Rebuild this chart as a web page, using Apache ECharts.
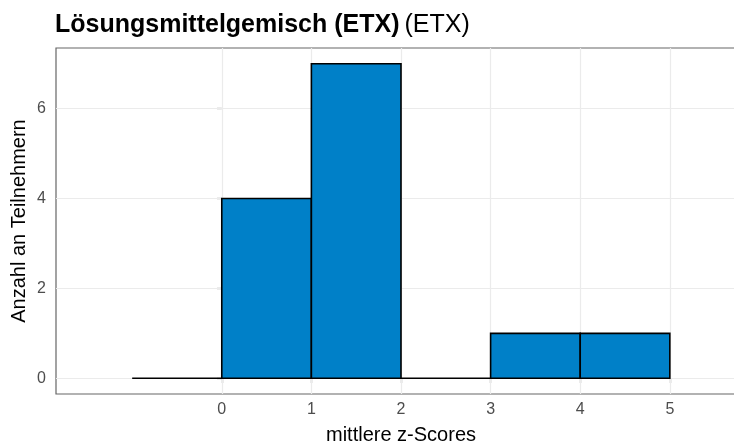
<!DOCTYPE html>
<html>
<head>
<meta charset="utf-8">
<script src="https://cdn.jsdelivr.net/npm/echarts@6/dist/echarts.min.js"></script>
<style>
html, body { margin: 0; padding: 0; background: #fff; overflow: hidden; }
#chart { width: 734px; height: 443px; }
</style>
</head>
<body>
<div id="chart"></div>
<script>
// histogram bins (z-score ranges) and counts
const binStart = [-1, 0, 1, 2, 3, 4];
const binEnd = [0, 1, 2, 3, 4, 5];
const counts = [0, 4, 7, 0, 1, 1];
const xTicks = [0, 1, 2, 3, 4, 5];
const yTicks = [0, 2, 4, 6];

const barData = binStart.map((s, i) => [s, binEnd[i], counts[i]]);
const gridLines = xTicks.map(v => ({ xAxis: v })).concat(yTicks.map(v => ({ yAxis: v })));

const chart = echarts.init(document.getElementById('chart'));
chart.setOption({
  animation: false,
  textStyle: { fontFamily: 'Liberation Sans, Arial, sans-serif' },
  title: {
    left: 50,
    top: 8,
    text: '{b|Lösungsmittelgemisch (ETX)} {n|(ETX)}',
    textStyle: {
      rich: {
        b: { fontSize: 25, fontWeight: 'bold', color: '#000', fontFamily: 'Liberation Sans' },
        n: { fontSize: 25, fontWeight: 'normal', color: '#000', fontFamily: 'Liberation Sans' }
      }
    }
  },
  grid: {
    left: 56, top: 48, width: 690, height: 346,
    outerBoundsMode: 'none',
    containLabel: false,
    show: true, borderColor: '#666', borderWidth: 1.2, backgroundColor: '#fff'
  },
  xAxis: {
    type: 'value',
    min: -1.85, max: 5.85,
    name: 'mittlere z-Scores',
    nameLocation: 'middle',
    nameGap: 31,
    nameMoveOverlap: false,
    nameTextStyle: { fontSize: 20, color: '#000' },
    axisLine: { show: false },
    splitLine: { show: false },
    axisTick: { show: true, length: 5, customValues: xTicks, lineStyle: { color: '#333', width: 1.2 } },
    axisLabel: { customValues: xTicks, fontSize: 16, color: '#4d4d4d', margin: 8 }
  },
  yAxis: {
    type: 'value',
    min: -0.35, max: 7.35,
    name: 'Anzahl an Teilnehmern',
    nameLocation: 'middle',
    nameGap: 27,
    nameMoveOverlap: false,
    nameTextStyle: { fontSize: 20, color: '#000' },
    axisLine: { show: false },
    splitLine: { show: false },
    axisTick: { show: true, length: 5, customValues: yTicks, lineStyle: { color: '#333', width: 1.2 } },
    axisLabel: { customValues: yTicks, fontSize: 16, color: '#4d4d4d', margin: 10 }
  },
  series: [{
    type: 'custom',
    z: 3,
    renderItem: function (params, api) {
      const p0 = api.coord([api.value(0), 0]);
      const p1 = api.coord([api.value(1), api.value(2)]);
      return {
        type: 'rect',
        shape: { x: p0[0], y: p1[1], width: p1[0] - p0[0], height: p0[1] - p1[1] },
        style: { fill: '#0080c8', stroke: '#000', lineWidth: 1.6 }
      };
    },
    encode: { x: [0, 1], y: 2 },
    data: barData,
    markLine: {
      z: 1,
      silent: true,
      symbol: 'none',
      label: { show: false },
      lineStyle: { color: '#ebebeb', type: 'solid', width: 1.2 },
      data: gridLines
    }
  }]
});
</script>
</body>
</html>
